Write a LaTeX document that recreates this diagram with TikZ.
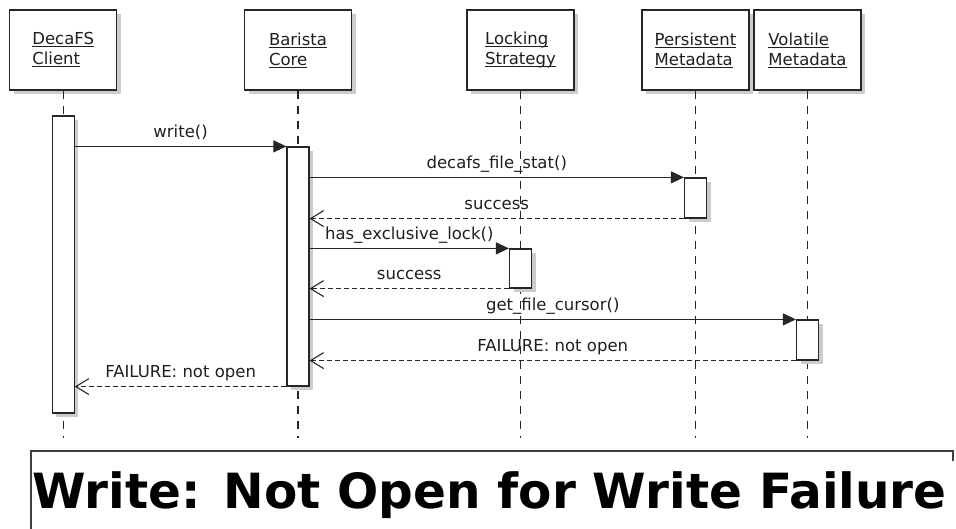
\documentclass[tikz,border=0pt]{standalone}
\usepackage{fontspec}
\setmainfont{DejaVu Sans}
\usetikzlibrary{arrows.meta,shadows}
\newcommand\myul[1]{\setbox0\hbox{#1}\rlap{\rule[-2.4pt]{\wd0}{0.9pt}}\box0}
\begin{document}
\begin{tikzpicture}[x=1pt,y=-1pt,
  every node/.style={font=\fontsize{16.5}{20}\selectfont, text=black!88},
  shad/.style={drop shadow={shadow xshift=4pt, shadow yshift=-4pt, opacity=1, fill=black!20}},
  actor/.style={draw=black!85, line width=1.2pt, fill=white, minimum width=107pt, minimum height=80pt, align=left, inner sep=0pt, shad},
  actbar/.style={draw=black!85, line width=1.2pt, fill=white, minimum width=22pt, inner sep=0pt, shad},
  lifeline/.style={draw=black!85, line width=1.2pt, dash pattern=on 8pt off 7pt},
  call/.style={draw=black!85, line width=1.1pt, -{Triangle[length=13pt,width=12pt]}},
  reply/.style={draw=black!85, line width=1.1pt, dash pattern=on 5pt off 3pt, -{Straight Barb[length=13pt,width=16pt]}},
  msg/.style={anchor=base, yshift=9pt, inner sep=0pt}]
\useasboundingbox (0,0) rectangle (956,529);

% participants
\node[actor] (p1) at (63.25,50) {\myul{DecaFS}\\\myul{Client}};
\node[actor] (p2) at (298,50) {\myul{Barista}\\\myul{Core}};
\node[actor] (p3) at (520.5,50) {\myul{Locking}\\\myul{Strategy}};
\node[actor] (p4) at (695.5,50) {\myul{Persistent}\\\myul{Metadata}};
\node[actor] (p5) at (807.5,50) {\myul{Volatile}\\\myul{Metadata}};

% lifeline ends
\coordinate (e1) at (63.25,438);
\coordinate (e2) at (298,438);
\coordinate (e3) at (520.5,438);
\coordinate (e4) at (695.5,438);
\coordinate (e5) at (807.5,438);
\foreach \i in {1,...,5} \draw[lifeline] (p\i.south) -- (e\i);

% activation bars
\node[actbar, minimum height=297pt] (a1) at (63.25,264.5) {};
\node[actbar, minimum height=239pt] (a2) at (298,266.5) {};
\node[actbar, minimum height=40pt] (a4) at (695.5,198) {};
\node[actbar, minimum height=39pt] (a3) at (520.5,268.5) {};
\node[actbar, minimum height=40pt] (a5) at (807.5,340) {};

% messages
\draw[call] (a1.east |- a2.north) -- node[msg]{write()} (a2.north west);
\draw[call] (a2.east |- a4.north) -- node[msg]{decafs\_file\_stat()} (a4.north west);
\draw[reply] (a4.south west) -- node[msg]{success} (a2.east |- a4.south);
\draw[call] (a2.east |- a3.north) -- node[msg]{has\_exclusive\_lock()} (a3.north west);
\draw[reply] (a3.south west) -- node[msg]{success} (a2.east |- a3.south);
\draw[call] (a2.east |- a5.north) -- node[msg]{get\_file\_cursor()} (a5.north west);
\draw[reply] (a5.south west) -- node[msg]{FAILURE: not open} (a2.east |- a5.south);
\draw[reply] (a2.south west) -- node[msg]{FAILURE: not open} (a1.east |- a2.south);

% title frame
\draw[black!75, line width=1.1pt] (31,529) -- (31,451) -- (953,451) -- (953,461);
\node[anchor=base, inner sep=0pt, text=black, font=\fontsize{48.5}{50}\selectfont\bfseries] (title) at (489.5,508) {Write: Not Open for Write Failure};
\end{tikzpicture}
\end{document}
